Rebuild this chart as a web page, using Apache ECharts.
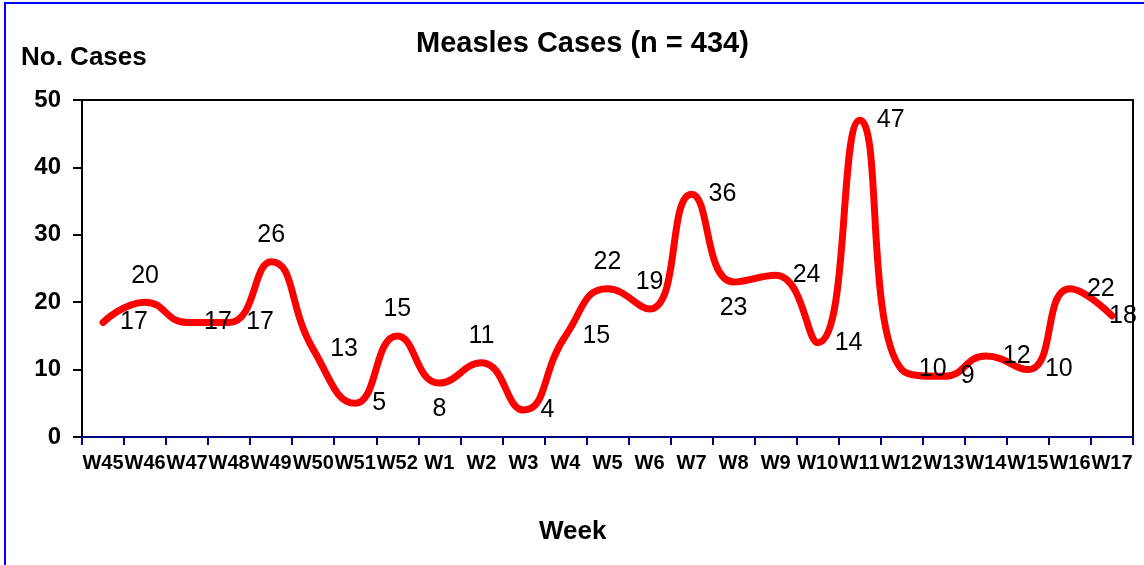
<!DOCTYPE html>
<html>
<head>
<meta charset="utf-8">
<script src="https://cdn.jsdelivr.net/npm/echarts@6/dist/echarts.min.js"></script>
<style>
  html, body { margin: 0; padding: 0; background: #fff; }
  #chart { position: absolute; left: 0; top: 0; width: 1144px; height: 565px; }
  #frame { position: absolute; left: 4px; top: 2px; width: 3000px; height: 3000px;
           border-left: 2px solid #0000ff; border-top: 2px solid #0000ff; pointer-events: none; }
</style>
</head>
<body>
<div id="chart"></div>
<div id="frame"></div>
<script>
const weeks = ['W45','W46','W47','W48','W49','W50','W51','W52','W1','W2','W3','W4','W5','W6','W7','W8','W9','W10','W11','W12','W13','W14','W15','W16','W17'];
const cases = [17,20,17,17,26,13,5,15,8,11,4,15,22,19,36,23,24,14,47,10,9,12,10,22,18];
const labelPos = ['right','top','right','right','top','right','right','top','bottom','top','right','right','top','top','right','bottom','right','right','right','right','right','right','right','right','right'];
const yTicks = [0,10,20,30,40,50];

const FONT = '"Liberation Sans", Arial, sans-serif';
const chart = echarts.init(document.getElementById('chart'), null, { renderer: 'canvas' });

const seriesData = cases.map((v, i) => ({
  value: v,
  label: {
    position: labelPos[i],
    distance: i === cases.length - 1 ? -4 : (labelPos[i] === 'right' ? 16 : 13)
  }
}));

chart.setOption({
  animation: false,
  backgroundColor: '#ffffff',
  title: {
    text: 'Measles Cases (n = 434)',
    left: 411, top: 24,
    textStyle: { fontFamily: FONT, fontWeight: 'bold', fontSize: 29, color: '#000' }
  },
  graphic: [
    { type: 'text', left: 21, top: 45,
      style: { text: 'No. Cases', fontFamily: FONT, fontWeight: 'bold', fontSize: 26, fill: '#000' } },
    { type: 'text', left: 539, top: 519,
      style: { text: 'Week', fontFamily: FONT, fontWeight: 'bold', fontSize: 26, fill: '#000' } }
  ],
  grid: {
    left: 82, right: 11, top: 100, bottom: 128,
    show: true, borderColor: '#000', borderWidth: 2, backgroundColor: '#fff'
  },
  xAxis: {
    type: 'category',
    data: weeks,
    boundaryGap: true,
    axisLine: { show: true, lineStyle: { color: '#000080', width: 2 } },
    axisTick: { show: true, alignWithLabel: false, length: 8, lineStyle: { color: '#000080', width: 2 } },
    axisLabel: { interval: 0, margin: 16, color: '#000', fontFamily: FONT, fontWeight: 'bold', fontSize: 20 },
    splitLine: { show: false }
  },
  yAxis: {
    type: 'value',
    min: yTicks[0], max: yTicks[yTicks.length - 1], interval: 10,
    axisLine: { show: true, lineStyle: { color: '#000', width: 2 } },
    axisTick: { show: true, length: 9, lineStyle: { color: '#000', width: 2 } },
    axisLabel: { margin: 21, color: '#000', fontFamily: FONT, fontWeight: 'bold', fontSize: 24 },
    splitLine: { show: false }
  },
  series: [{
    type: 'line',
    data: seriesData,
    smooth: 0.5,
    symbol: 'circle',
    symbolSize: 2,
    showSymbol: true,
    itemStyle: { color: 'rgba(0,0,0,0)' },
    lineStyle: { color: '#ff0000', width: 7, cap: 'round', join: 'round' },
    label: { show: true, color: '#000', fontFamily: FONT, fontSize: 25 },
    z: 3
  }]
});
</script>
</body>
</html>
